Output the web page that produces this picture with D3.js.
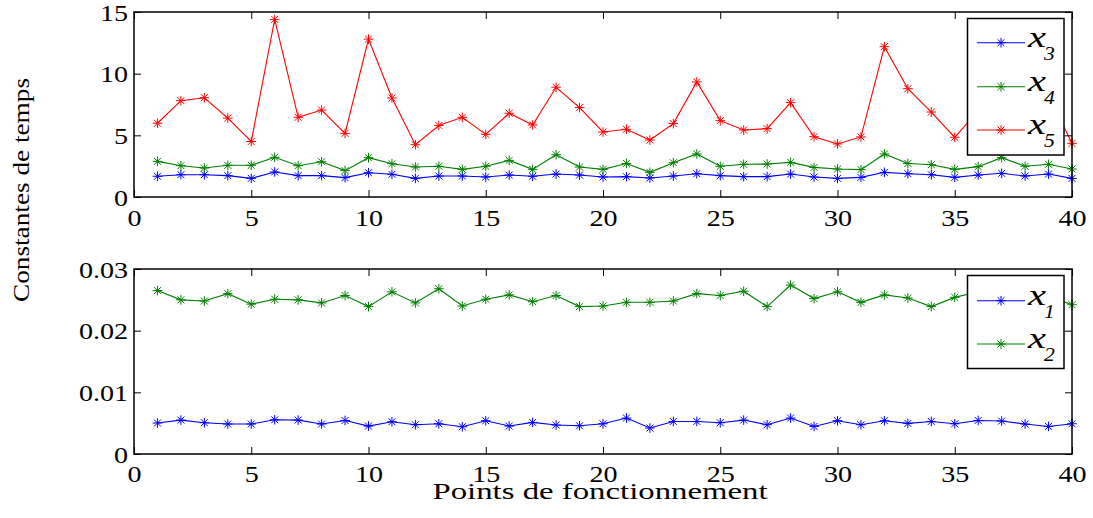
<!DOCTYPE html>
<html>
<head>
<meta charset="utf-8">
<script src="https://cdn.jsdelivr.net/npm/d3@7"></script>
<style>
  html, body { margin: 0; padding: 0; background: #fff; }
  svg { display: block; }
</style>
</head>
<body>
<svg id="chart" width="1093" height="518"></svg>
<script>
// ---- data ----
const points = d3.range(1, 41);
const xTicks = [0, 5, 10, 15, 20, 25, 30, 35, 40];
const topYTicks = [0, 5, 10, 15];
const bottomYTicks = [0, 0.01, 0.02, 0.03];
const bottomYTickLabels = ["0", "0.01", "0.02", "0.03"];

const x3 = [1.68,1.81,1.81,1.73,1.51,2.03,1.73,1.73,1.57,1.97,1.84,1.51,1.70,1.70,1.62,1.78,1.68,1.86,1.78,1.62,
            1.65,1.54,1.70,1.89,1.73,1.65,1.65,1.86,1.62,1.51,1.59,2.00,1.89,1.81,1.59,1.78,1.92,1.70,1.86,1.51];
const x4 = [2.89,2.54,2.35,2.57,2.57,3.22,2.54,2.86,2.14,3.19,2.70,2.43,2.49,2.24,2.49,2.97,2.24,3.43,2.43,2.24,
            2.72,2.00,2.78,3.49,2.49,2.65,2.67,2.81,2.40,2.27,2.22,3.49,2.72,2.62,2.24,2.46,3.19,2.49,2.65,2.27];
const x5 = [5.98,7.81,8.05,6.40,4.50,14.40,6.46,7.05,5.16,12.80,8.03,4.24,5.80,6.46,5.08,6.79,5.84,8.90,7.25,5.27,
            5.49,4.62,5.95,9.33,6.19,5.43,5.54,7.65,4.89,4.30,4.87,12.19,8.78,6.89,4.84,7.00,5.90,6.50,8.20,4.35];
const x1 = [0.00502,0.00550,0.00507,0.00486,0.00486,0.00555,0.00550,0.00486,0.00544,0.00453,0.00523,0.00475,0.00490,0.00442,0.00540,0.00453,0.00512,0.00470,0.00458,0.00490,
            0.00583,0.00421,0.00528,0.00528,0.00507,0.00550,0.00475,0.00583,0.00447,0.00540,0.00475,0.00540,0.00496,0.00528,0.00490,0.00544,0.00534,0.00486,0.00447,0.00490];
const x2 = [0.0265,0.0250,0.0248,0.0260,0.0243,0.0251,0.0250,0.0245,0.0257,0.0239,0.0263,0.0245,0.0268,0.0240,0.0251,0.0258,0.0247,0.0257,0.0239,0.0240,
            0.0246,0.0246,0.0248,0.0260,0.0257,0.0264,0.0239,0.0274,0.0252,0.0263,0.0246,0.0258,0.0253,0.0239,0.0254,0.0263,0.0266,0.0256,0.0256,0.0242];

const topSeries = [
  { name: "x", sub: "3", values: x3, color: "#0000ff" },
  { name: "x", sub: "4", values: x4, color: "#008000" },
  { name: "x", sub: "5", values: x5, color: "#ff0000" }
];
const bottomSeries = [
  { name: "x", sub: "1", values: x1, color: "#0000ff" },
  { name: "x", sub: "2", values: x2, color: "#008000" }
];

// ---- font detection (a Times-like serif that is installed) ----
const ctx = document.createElement("canvas").getContext("2d");
function hasFont(name) {
  const s = "abcdefghijklmnopqrstuvwxyzABCDEFGH0123456789";
  return ["monospace", "sans-serif", "serif"].some(b => {
    ctx.font = `72px ${b}`; const w0 = ctx.measureText(s).width;
    ctx.font = `72px "${name}", ${b}`; return Math.abs(ctx.measureText(s).width - w0) > 0.5;
  });
}
const candidates = ["Liberation Serif", "Tinos", "Times New Roman", "Nimbus Roman", "FreeSerif", "Noto Serif", "DejaVu Serif"];
const FONTNAME = candidates.find(hasFont) || "serif";
const FONT = `"${FONTNAME}", serif`;
ctx.font = `100px ${FONT}`;
const fDigit = 50 / (ctx.measureText("0123456789").width / 10);
ctx.font = `italic 100px ${FONT}`;
const fX = 44.4 / ctx.measureText("x").width;

// stretch a text horizontally through textLength
function stretch(sel, k) {
  sel.each(function () {
    const w = this.getComputedTextLength();
    d3.select(this).attr("textLength", w * k).attr("lengthAdjust", "spacingAndGlyphs");
  });
}

// ---- layout ----
const SX = 1.22;
const svg = d3.select("#chart");
svg.append("rect").attr("width", 1093).attr("height", 518).attr("fill", "#fff");

const xScale = d3.scaleLinear().domain([0, 40]).range([134, 1072]);

function panel(cfg) {
  const { yDomain, yRange, yTicks, yFmt, series, legend } = cfg;
  const y = d3.scaleLinear().domain(yDomain).range(yRange);
  const g = svg.append("g");
  const [y0, y1] = [yRange[0], yRange[1]];
  const [x0, x1v] = xScale.range();

  const line = d3.line().x((d, i) => xScale(points[i])).y(d => y(d));
  const r = 4.8, q = r * 0.72;
  const star = `M${-r},0L${r},0M0,${-r}L0,${r}M${-q},${-q}L${q},${q}M${-q},${q}L${q},${-q}`;
  series.forEach(s => {
    g.append("path").attr("d", line(s.values)).attr("fill", "none")
      .attr("stroke", s.color).attr("stroke-width", 1.1);
    g.selectAll(null).data(s.values).enter().append("path")
      .attr("transform", (d, i) => `translate(${xScale(points[i])},${y(d)})`)
      .attr("d", star).attr("fill", "none").attr("stroke", s.color).attr("stroke-width", 1);
  });

  const axB = g.append("g").attr("transform", `translate(0,${y0})`)
    .call(d3.axisBottom(xScale).tickValues(xTicks).tickSize(-7).tickPadding(0).tickFormat(d3.format("d")));
  const axT = g.append("g").attr("transform", `translate(0,${y1})`)
    .call(d3.axisTop(xScale).tickValues(xTicks).tickSize(-7).tickFormat(""));
  const axL = g.append("g").attr("transform", `translate(${x0},0)`)
    .call(d3.axisLeft(y).tickValues(yTicks).tickSize(-7).tickFormat(yFmt));
  const axR = g.append("g").attr("transform", `translate(${x1v},0)`)
    .call(d3.axisRight(y).tickValues(yTicks).tickSize(-7).tickFormat(""));
  [axB, axT, axL, axR].forEach(a => {
    a.select(".domain").remove();
    a.attr("font-family", FONT).attr("font-size", 23);
    a.selectAll(".tick line").attr("stroke", "#000").attr("stroke-width", 1);
  });
  axB.selectAll(".tick text")
    .attr("x", 0).attr("y", cfg.xLabelBase).attr("dy", null)
    .attr("font-size", 23).attr("font-family", FONT).attr("fill", "#000")
    .attr("text-anchor", "middle");
  axL.selectAll(".tick text")
    .attr("x", -6).attr("y", cfg.yLabelShift).attr("dy", null)
    .attr("font-size", 23).attr("font-family", FONT).attr("fill", "#000")
    .attr("text-anchor", "end");
  stretch(axB.selectAll(".tick text"), SX * fDigit);
  stretch(axL.selectAll(".tick text"), SX * fDigit);

  g.append("rect").attr("x", x0).attr("y", y1).attr("width", x1v - x0).attr("height", y0 - y1)
    .attr("fill", "none").attr("stroke", "#000").attr("stroke-width", 1.5);

  const L = legend;
  const lg = svg.append("g").attr("font-family", FONT);
  lg.append("rect").attr("x", L.x).attr("y", L.y).attr("width", L.w).attr("height", L.h)
    .attr("fill", "#fff").attr("stroke", "#000").attr("stroke-width", 1.5);
  series.forEach((s, i) => {
    const ry = L.rows[i];
    lg.append("line").attr("x1", 977).attr("x2", 1025).attr("y1", ry).attr("y2", ry)
      .attr("stroke", s.color).attr("stroke-width", 1.1);
    lg.append("path").attr("transform", `translate(1001,${ry})`).attr("d", star)
      .attr("fill", "none").attr("stroke", s.color).attr("stroke-width", 1);
    const tx = lg.append("text").attr("x", 1028).attr("y", ry + 4)
      .attr("font-size", 30).attr("font-style", "italic").attr("font-family", FONT).text(s.name);
    stretch(tx, 1.35 * fX);
    const ts = lg.append("text").attr("x", 1044).attr("y", ry + 17)
      .attr("font-size", 18).attr("font-style", "italic").attr("font-family", FONT).text(s.sub);
    stretch(ts, 1.2 * fDigit);
  });
}

panel({
  yDomain: [0, 15], yRange: [197, 12], yTicks: topYTicks, yFmt: d3.format("d"),
  series: topSeries, xLabelBase: 29, yLabelShift: 8,
  legend: { x: 967.5, y: 18.5, w: 96.5, h: 136.5, rows: [42.7, 86.7, 130] }
});
panel({
  yDomain: [0, 0.03], yRange: [454, 269], yTicks: bottomYTicks,
  yFmt: (d, i) => bottomYTickLabels[i],
  series: bottomSeries, xLabelBase: 28, yLabelShift: 8,
  legend: { x: 967.5, y: 275.5, w: 96.5, h: 93, rows: [300.7, 344] }
});

svg.append("text").attr("x", 600).attr("y", 499).attr("text-anchor", "middle")
  .attr("font-size", 24).attr("font-family", FONT)
  .attr("textLength", 335).attr("lengthAdjust", "spacingAndGlyphs")
  .text("Points de fonctionnement");
svg.append("text").attr("transform", "translate(28.5,190) rotate(-90)").attr("text-anchor", "middle")
  .attr("font-size", 24).attr("font-family", FONT)
  .attr("textLength", 224).attr("lengthAdjust", "spacingAndGlyphs")
  .text("Constantes de temps");
</script>
</body>
</html>
